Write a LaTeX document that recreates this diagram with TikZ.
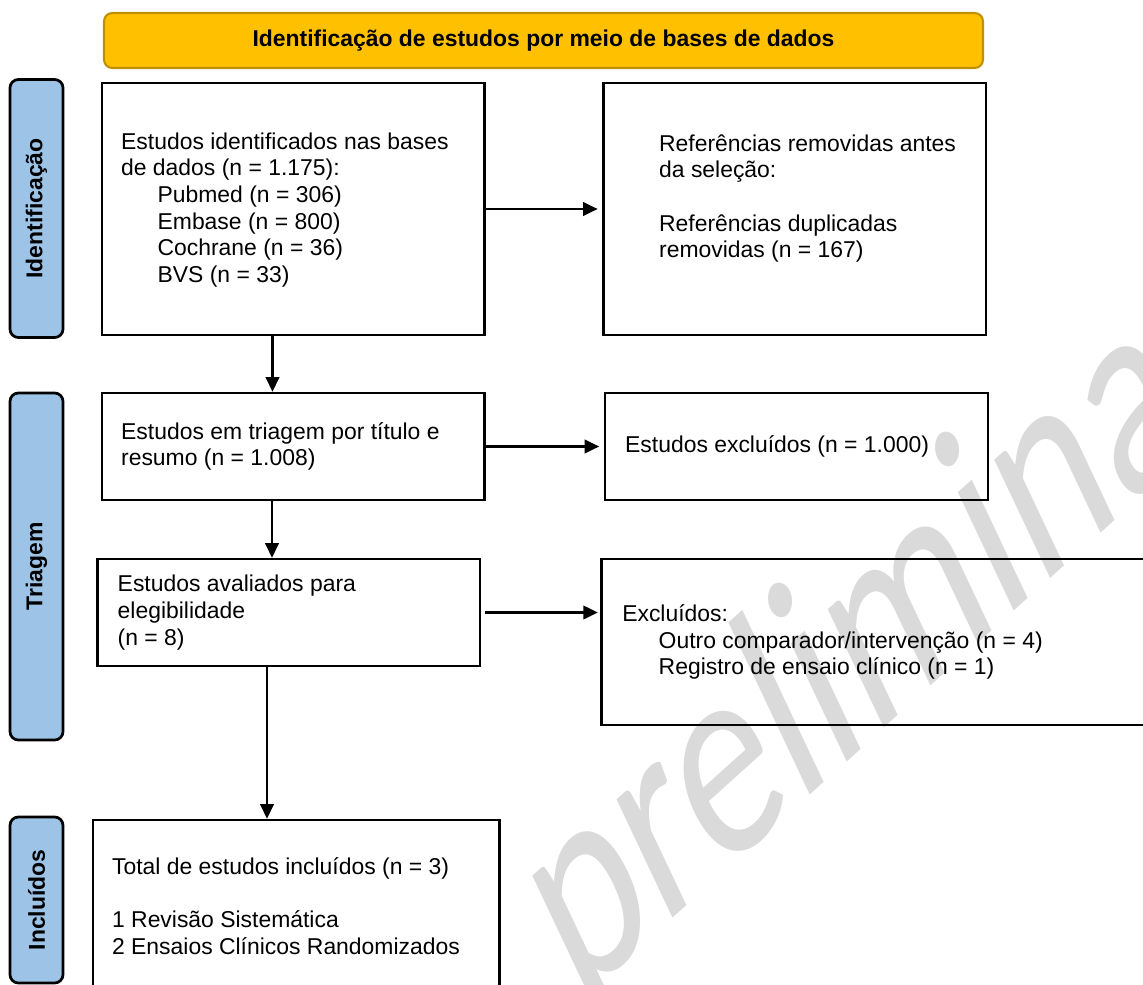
\documentclass[tikz,border=0pt]{standalone}
\usepackage{fontspec}
\setmainfont{Liberation Sans}
\newfontfamily\wmfont{Carlito}
\usetikzlibrary{arrows.meta, calc, positioning}

\newlength{\pxu}
\setlength{\pxu}{0.48pt}
\definecolor{titlefill}{HTML}{FFC000}
\definecolor{titleline}{HTML}{BF9000}
\definecolor{sidefill}{HTML}{9DC3E6}
\definecolor{wmgray}{HTML}{DADADA}
\newcommand{\bodyfont}{\fontsize{11}{12.8}\selectfont}
\newcommand{\ind}{\hspace*{17.5pt}}

\tikzset{
  box/.style={draw, line width=1.2pt, inner sep=0pt},
  side/.style={draw, line width=1.3pt, rounded corners=4pt, fill=sidefill, rotate=90, font=\bodyfont\bfseries, inner sep=0pt},
  txt/.style={align=left, inner sep=0pt, anchor=west},
  arr/.style={line width=1.1pt, -{Triangle[length=7pt,width=6.5pt]}},
}

\begin{document}
\begin{tikzpicture}[x=0.48pt, y=-0.48pt, font=\bodyfont]
 \useasboundingbox (0,0) rectangle (1143,985);
 \clip (0,0) rectangle (1143,985);

 % watermark
 \node[font=\wmfont\fontsize{105}{105}\selectfont, text=wmgray, rotate=42, xslant=0.3, yscale=1.2, anchor=base west, inner sep=0pt] (wm) at (577,1005) {preliminar};

 % title
 \node[draw=titleline, fill=titlefill, line width=1pt, rounded corners=4pt, minimum width=879\pxu, minimum height=55\pxu, font=\bodyfont\bfseries] (title) at (543.5,40.5) {Identificação de estudos por meio de bases de dados};

 % phases
 \node[side, minimum width=258\pxu, minimum height=53\pxu] (sIdent) at (36.5,208.5) {Identificação};
 \node[side, minimum width=347\pxu, minimum height=53\pxu] (sTriag) at (36.5,566.5) {Triagem};
 \node[side, minimum width=166\pxu, minimum height=53\pxu] (sIncl) at (36.5,900) {Incluídos};

 % boxes
 \node[box, minimum width=382.5\pxu, minimum height=252\pxu] (ident) at (293.25,209) {};
 \node[box, minimum width=382.5\pxu, minimum height=252\pxu] (remov) at (794.75,209) {};
 \node[box, minimum width=382.5\pxu, minimum height=107\pxu] (triag) at (293.25,446.5) {};
 \node[box, minimum width=383\pxu, minimum height=107\pxu] (exclA) at (796.5,446.5) {};
 \node[box, minimum width=382.5\pxu, minimum height=107\pxu] (eleg) at (288.8,612.5) {};
 \node[box, minimum width=570\pxu, minimum height=166\pxu] (exclB) at (886.6,642) {};
 \node[box, minimum width=406.5\pxu, minimum height=172\pxu] (incl) at (296.2,906) {};

 % texts
 \node[txt] (tIdent) at ($(ident.west)+(20,1)$) {Estudos identificados nas bases\\ de dados (n = 1.175):\\ \ind Pubmed (n = 306)\\ \ind Embase (n = 800)\\ \ind Cochrane (n = 36)\\ \ind BVS (n = 33)};
 \node[txt] (tRemov) at ($(remov.west)+(56.5,-10.5)$) {Referências removidas antes\\ da seleção:\\[12.8pt] Referências duplicadas\\ removidas (n = 167)};
 \node[txt] (tTriag) at ($(triag.west)+(20,0)$) {Estudos em triagem por título e\\ resumo (n = 1.008)};
 \node[txt] (tExclA) at ($(exclA.west)+(21,0)$) {Estudos excluídos (n = 1.000)};
 \node[txt] (tEleg) at ($(eleg.west)+(21,0)$) {Estudos avaliados para\\ elegibilidade\\ (n = 8)};
 \node[txt] (tExclB) at ($(exclB.west)+(21.5,0)$) {Excluídos:\\ \ind Outro comparador/intervenção (n = 4)\\ \ind Registro de ensaio clínico (n = 1)};
 \node[txt] (tIncl) at ($(incl.west)+(20,0)$) {Total de estudos incluídos (n = 3)\\[12.8pt] 1 Revisão Sistemática\\ 2 Ensaios Clínicos Randomizados};

 % arrows
 \draw[arr, shorten >=2.2pt] (ident.east) -- (remov.west);
 \draw[arr, shorten >=2.2pt] (triag.east) -- (exclA.west);
 \draw[arr, shorten <=2pt, shorten >=1.2pt] (eleg.east) -- (eleg.east -| exclB.west);
 \coordinate (d1) at ($(ident.south)+(-20.75,0)$);
 \coordinate (d2) at ($(triag.south)+(-21.25,0)$);
 \coordinate (d3) at ($(eleg.south)+(-21.8,0)$);
 \draw[arr] (d1) -- (d1 |- triag.north);
 \draw[arr] (d2) -- (d2 |- eleg.north);
 \draw[arr] (d3) -- (d3 |- incl.north);
\end{tikzpicture}
\end{document}
